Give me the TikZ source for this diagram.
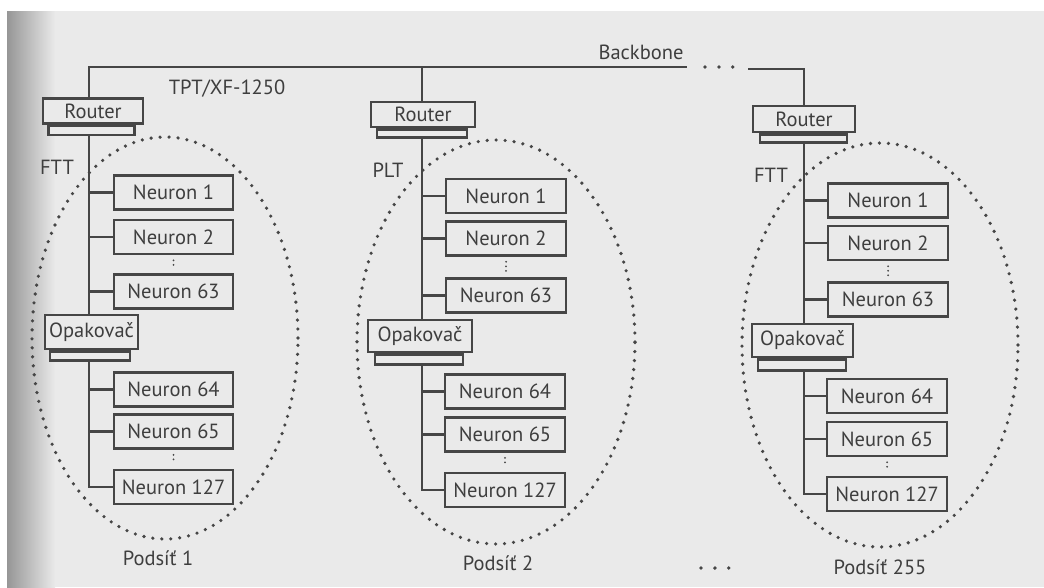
\documentclass[tikz,border=0pt]{standalone}
\usepackage{fontspec}
\setmainfont{PT Sans}
\definecolor{lc}{RGB}{70,70,70}
\definecolor{tc}{RGB}{62,62,62}
\definecolor{bgc}{RGB}{234,234,234}
\definecolor{edgec}{RGB}{150,150,150}
\newcommand\lblfont{\fontsize{20.5}{24}\selectfont}
\begin{document}
\begin{tikzpicture}[x=1pt,y=-1pt,
  ln/.style={draw=lc, line width=2.1pt},
  nbox/.style={draw=lc, line width=2.5pt, fill=bgc, minimum width=119pt, minimum height=34pt, inner sep=0pt, text=tc, font=\lblfont},
  rbox/.style={draw=lc, line width=2.5pt, fill=bgc, minimum width=100pt, minimum height=25pt, inner sep=0pt, text=tc, font=\lblfont},
  obox/.style={rbox, minimum height=33pt},
  basebox/.style={draw=lc, line width=2.3pt, fill=bgc, minimum width=86pt, minimum height=9pt, inner sep=0pt, anchor=north},
  lbl/.style={text=tc, font=\lblfont, inner sep=0pt},
  subnet/.style={draw=lc, line width=3.6pt, dash pattern=on 0pt off 9pt, line cap=round},
  vdots/.style={draw=lc, line width=2pt, dash pattern=on 0pt off 4.5pt, line cap=round},
  bigdots/.style={draw=lc, line width=3.8pt, dash pattern=on 0pt off 13.9pt, line cap=round},
]
\useasboundingbox (0,0) rectangle (1044,587);
% background (scanned page)
\fill[bgc] (0,0) rectangle (1044,587);
\fill[white] (0,0) rectangle (1044,11);
\fill[white] (0,0) rectangle (7,587);
\shade[left color=edgec, right color=bgc] (7,11) rectangle (55,587);

% subnet ellipses
\draw[subnet] (165,338) ellipse [x radius=133pt, y radius=201pt];
\draw[subnet] (496,342) ellipse [x radius=139pt, y radius=202pt];
\draw[subnet] (880,345) ellipse [x radius=138pt, y radius=202pt];

% backbone coordinates
\coordinate (bbL) at (89,67);
\coordinate (v2) at (422,67);
\coordinate (bbE) at (687,67);
\coordinate (dotsA) at (705,67);
\coordinate (dotsB) at (733,67);
\coordinate (bbR) at (748,69);

% ---------- column 1 ----------
\node[rbox] (r1) at (93,111) {Router};
\node[basebox] (r1b) at ([xshift=-1.5pt]r1.south) {};
\node[nbox] (n1a) at (173.5,192.5) {Neuron 1};
\node[nbox] (n2a) at (173.5,237) {Neuron 2};
\node[nbox] (n63a) at (173.5,291.5) {Neuron 63};
\node[obox, minimum width=93pt, minimum height=34pt] (o1) at (91.5,332) {Opakovač};
\node[basebox, minimum width=80pt] (o1b) at ([xshift=-1.5pt]o1.south) {};
\node[nbox] (n64a) at (173.5,389.5) {Neuron 64};
\node[nbox] (n65a) at (173.5,431.5) {Neuron 65};
\node[nbox] (n127a) at (173.5,487) {Neuron 127};

% ---------- column 2 ----------
\node[rbox, minimum width=104pt] (r2) at (423,114.5) {Router};
\node[basebox, minimum width=90pt, minimum height=8pt] (r2b) at ([xshift=-1pt]r2.south) {};
\node[nbox, minimum width=120pt] (n1b) at (506,196) {Neuron 1};
\node[nbox, minimum width=120pt] (n2b) at (506,238.5) {Neuron 2};
\node[nbox, minimum width=120pt] (n63b) at (506,295.5) {Neuron 63};
\node[obox, minimum width=104pt, minimum height=32pt] (o2) at (420,336) {Opakovač};
\node[basebox, minimum width=88pt, minimum height=10pt] (o2b) at ([xshift=-1pt]o2.south) {};
\node[nbox, minimum width=120pt] (n64b) at (505,391.5) {Neuron 64};
\node[nbox, minimum width=120pt] (n65b) at (505,434.5) {Neuron 65};
\node[nbox, minimum width=120pt] (n127b) at (505,490) {Neuron 127};

% ---------- column 3 ----------
\node[rbox, minimum width=102pt, minimum height=26pt] (r3) at (804,119) {Router};
\node[basebox, minimum width=87pt, minimum height=8pt] (r3b) at ([xshift=-0.5pt]r3.south) {};
\node[nbox, minimum width=120pt] (n1c) at (888,200.5) {Neuron 1};
\node[nbox, minimum width=120pt] (n2c) at (888,243) {Neuron 2};
\node[nbox, minimum width=120pt] (n63c) at (888,299.5) {Neuron 63};
\node[obox, minimum width=101pt] (o3) at (802.5,340.5) {Opakovač};
\node[basebox, minimum width=88pt, minimum height=11pt] (o3b) at ([xshift=-0.5pt]o3.south) {};
\node[nbox, minimum width=120pt] (n64c) at (887,396) {Neuron 64};
\node[nbox, minimum width=120pt] (n65c) at (887,439) {Neuron 65};
\node[nbox, minimum width=120pt] (n127c) at (887,494) {Neuron 127};

% ---------- labels ----------
\node[lbl] (bbl) at (641,52) {Backbone};
\node[lbl] (tpt) at (227,89) {TPT/XF-1250};
\node[lbl] (ftt1) at (57,167) {FTT};
\node[lbl] (plt) at (388,170) {PLT};
\node[lbl] (ftt3) at (771,175) {FTT};
\node[lbl] (p1) at (158,558) {Podsíť 1};
\node[lbl] (p2) at (498,563) {Podsíť 2};
\node[lbl] (p3) at (880,567) {Podsíť 255};
\coordinate (botA) at (701,568);
\coordinate (botB) at (729,568);

% ---------- backbone ----------
\draw[ln] (r1.north -| bbL) -- (bbL) -- (bbE);
\draw[bigdots] (dotsA) -- (dotsB);
\draw[ln] (bbR) -| (r3.north);
\draw[ln] (v2) -- (r2.north -| v2);
\draw[bigdots] (botA) -- (botB);

% ---------- column 1 wiring ----------
\draw[ln] (r1b.south -| bbL) -- (o1.north -| bbL);
\draw[ln] (o1b.south -| bbL) |- (n127a.west);
\foreach \n in {n1a,n2a,n63a,n64a,n65a} \draw[ln] (\n.west -| bbL) -- (\n.west);
\draw[vdots] ([yshift=-5pt]n2a.south) -- ([yshift=5pt]n63a.north);
\draw[vdots] ([yshift=-5pt]n65a.south) -- ([yshift=5pt]n127a.north);

% ---------- column 2 wiring ----------
\draw[ln] (r2b.south -| v2) -- (o2.north -| v2);
\draw[ln] (o2b.south -| v2) |- (n127b.west);
\foreach \n in {n1b,n2b,n63b,n64b,n65b} \draw[ln] (\n.west -| v2) -- (\n.west);
\draw[vdots] ([yshift=-5pt]n2b.south) -- ([yshift=5pt]n63b.north);
\draw[vdots] ([yshift=-5pt]n65b.south) -- ([yshift=5pt]n127b.north);

% ---------- column 3 wiring ----------
\coordinate (v3) at (804,0);
\draw[ln] (r3b.south -| v3) -- (o3.north -| v3);
\draw[ln] (o3b.south -| v3) |- (n127c.west);
\foreach \n in {n1c,n2c,n63c,n64c,n65c} \draw[ln] (\n.west -| v3) -- (\n.west);
\draw[vdots] ([yshift=-5pt]n2c.south) -- ([yshift=5pt]n63c.north);
\draw[vdots] ([yshift=-5pt]n65c.south) -- ([yshift=5pt]n127c.north);
\end{tikzpicture}
\end{document}
